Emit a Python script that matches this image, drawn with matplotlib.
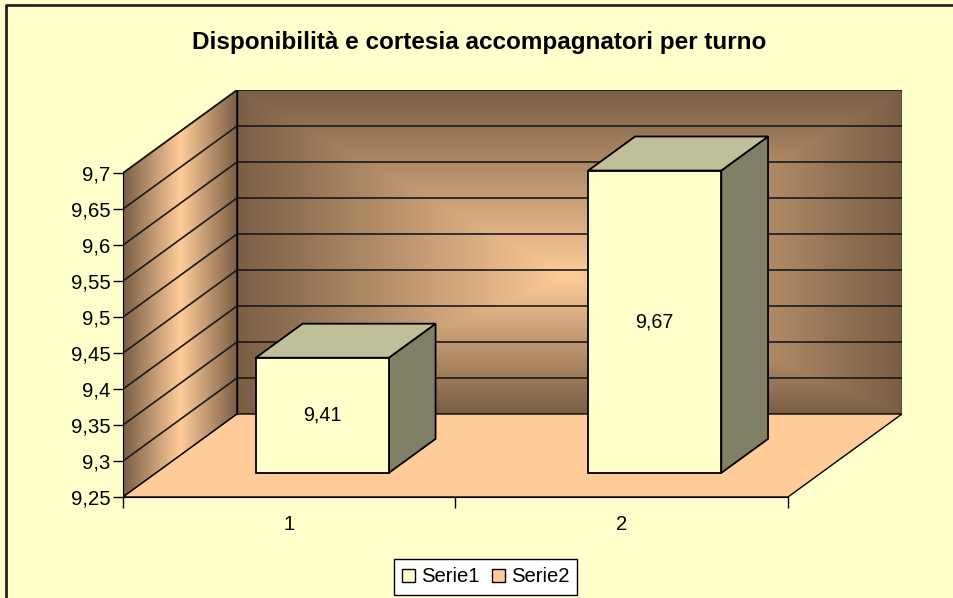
import numpy as np
import matplotlib.pyplot as plt
from matplotlib.patches import Polygon, Patch
from matplotlib.colors import LinearSegmentedColormap
from matplotlib.lines import Line2D

plt.rcParams['font.family'] = ['Liberation Sans', 'DejaVu Sans']

# data
title = 'Disponibilità e cortesia accompagnatori per turno'
categories = ['1', '2']
serie1 = [9.41, 9.67]
value_labels = ['9,41', '9,67']
yticks = [9.25, 9.3, 9.35, 9.4, 9.45, 9.5, 9.55, 9.6, 9.65, 9.7]
ytick_labels = ['9,25', '9,3', '9,35', '9,4', '9,45', '9,5', '9,55', '9,6', '9,65', '9,7']
legend_labels = ['Serie1', 'Serie2']

# fake 3d geometry (category / value units)
ymin, ymax = yticks[0], yticks[-1]
DX, DY = 0.343, 0.1153     # offset front -> back wall
d0, d1 = 0.29, 0.70        # depth span of the bars
bw = 0.4                   # bar width, fraction of category

bg = '#FFFFCC'
floor_c = '#FFCC99'
dark = '#7A5E45'
light = '#FFCC99'
bar_front = '#FFFFCC'
bar_top = '#BFBF99'
bar_side = '#808066'

wall_cmap = LinearSegmentedColormap.from_list('wall', [light, dark])


def P(x, y, d):
    return (x + d * DX, y + d * DY)


fig = plt.figure(figsize=(9.54, 5.98), dpi=100, facecolor=bg)
ax = fig.add_axes([123 / 954, 1 - 497 / 598, (902 - 123) / 954, (497 - 90) / 598])
ax.set_facecolor('none')
n = len(categories)
ax.set_xlim(0, n + DX)
ax.set_ylim(ymin, ymax + DY)

# back wall, gradient from centre (centre a bit below middle)
u = np.linspace(-1, 1, 500)
v = np.linspace(-1, 1, 300)
U, V = np.meshgrid(u, v)
V = np.where(V < -0.15, (V + 0.15) / 0.85, (V + 0.15) / 1.15)
T = np.maximum(np.abs(U), np.abs(V))
ax.imshow(T, cmap=wall_cmap, extent=(DX, n + DX, ymin + DY, ymax + DY),
          aspect='auto', origin='lower', zorder=0, interpolation='bilinear')

# left wall
lw_poly = Polygon([P(0, ymin, 0), P(0, ymin, 1), P(0, ymax, 1), P(0, ymax, 0)],
                  closed=True, fc='none', ec='black', lw=1, zorder=1)
ax.add_patch(lw_poly)
TL = np.abs(np.meshgrid(np.linspace(-1, 1, 200), np.linspace(0, 1, 10))[0])
im = ax.imshow(TL, cmap=wall_cmap, extent=(0, DX, ymin, ymax + DY),
               aspect='auto', origin='lower', zorder=0, interpolation='bilinear')
im.set_clip_path(lw_poly)

# floor
ax.add_patch(Polygon([P(0, ymin, 0), P(n, ymin, 0), P(n, ymin, 1), P(0, ymin, 1)],
                     closed=True, fc=floor_c, ec='black', lw=1, zorder=1))

# gridlines on walls
for t in yticks[1:]:
    xs, ys = zip(P(0, t, 0), P(0, t, 1), P(n, t, 1))
    ax.plot(xs, ys, color='#1a1a1a', lw=1.2, zorder=2)
# back wall edges
for x in (0, n):
    xs, ys = zip(P(x, ymin, 1), P(x, ymax, 1))
    ax.plot(xs, ys, color='black', lw=1, zorder=2)

# bars
for i, val in enumerate(serie1):
    x0 = i + 0.5 - bw / 2
    x1 = i + 0.5 + bw / 2
    side = [P(x1, ymin, d0), P(x1, ymin, d1), P(x1, val, d1), P(x1, val, d0)]
    top = [P(x0, val, d0), P(x1, val, d0), P(x1, val, d1), P(x0, val, d1)]
    front = [P(x0, ymin, d0), P(x1, ymin, d0), P(x1, val, d0), P(x0, val, d0)]
    ax.add_patch(Polygon(side, closed=True, fc=bar_side, ec='black', lw=1.3, zorder=4))
    ax.add_patch(Polygon(top, closed=True, fc=bar_top, ec='black', lw=1.3, zorder=4))
    ax.add_patch(Polygon(front, closed=True, fc=bar_front, ec='black', lw=1.3, zorder=5))
    cx, cy0 = P(i + 0.5, ymin, d0)
    cy1 = P(i + 0.5, val, d0)[1]
    ax.text(cx, (cy0 + cy1) / 2, value_labels[i], ha='center', va='center',
            fontsize=14.2, zorder=6)

# axes
for s in ('top', 'right'):
    ax.spines[s].set_visible(False)
ax.spines['left'].set_bounds(ymin, ymax)
ax.spines['bottom'].set_bounds(0, n)
ax.set_yticks(yticks, ytick_labels)
ax.tick_params(axis='y', length=7, width=1, pad=2, labelsize=14.6)
ax.set_xticks(range(n + 1))
ax.set_xticklabels([])
ax.set_xticks([i + 0.5 for i in range(n)], categories, minor=True)
ax.tick_params(axis='x', which='major', length=8, width=1)
ax.tick_params(axis='x', which='minor', length=0, pad=13, labelsize=14.6)

fig.text(479 / 954, 1 - 42 / 598, title, ha='center', va='center',
         fontsize=17.5, fontweight='bold')

handles = [Patch(fc=bar_front, ec='black', lw=1), Patch(fc=floor_c, ec='black', lw=1)]
leg = fig.legend(handles, legend_labels, loc='center',
                 bbox_to_anchor=(485.5 / 954, 1 - 577 / 598), ncol=2,
                 fontsize=14.6, fancybox=False, edgecolor='black', facecolor='white',
                 framealpha=1, handlelength=0.65, handleheight=0.65,
                 handletextpad=0.3, columnspacing=0.6, borderpad=0.4,
                 borderaxespad=0)
leg.get_frame().set_linewidth(1)

# chart border (top and left only visible)
fig.add_artist(Line2D([6 / 954, 6 / 954, 1], [0, 1 - 5 / 598, 1 - 5 / 598],
                      transform=fig.transFigure, color='#222222', lw=2))

fig.savefig('out.png', dpi=100, facecolor=bg)
